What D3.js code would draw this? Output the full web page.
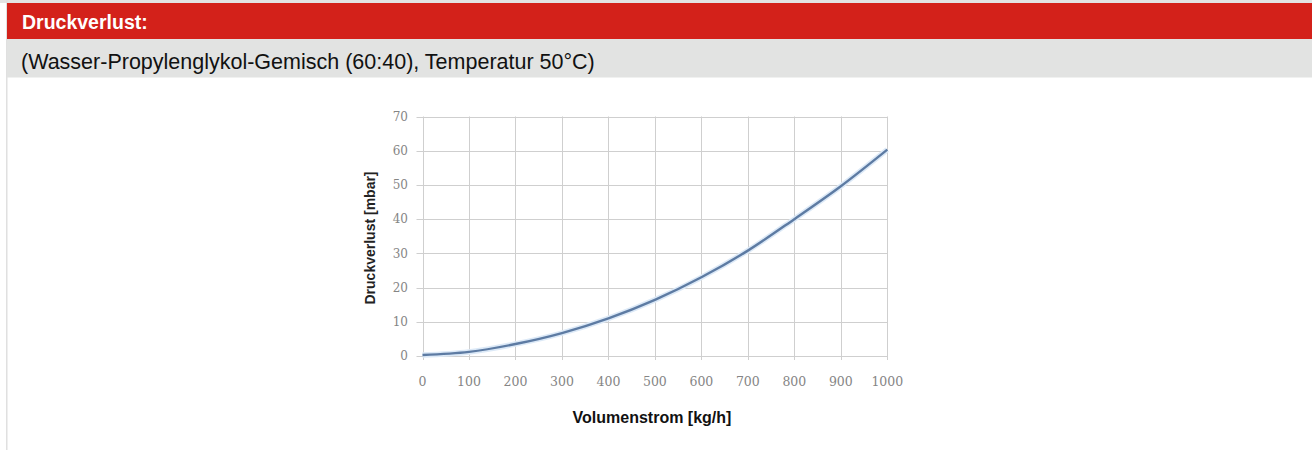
<!DOCTYPE html>
<html>
<head>
<meta charset="utf-8">
<script src="https://cdn.jsdelivr.net/npm/d3@7"></script>
<style>
  body { margin: 0; background: #fff; }
  svg { display: block; }
</style>
</head>
<body>
<script>
// Druckverlust chart
var flow = [0, 100, 200, 300, 400, 500, 600, 700, 800, 900, 1000];      // kg/h
var loss = [0.3, 1.2, 3.5, 6.7, 11.0, 16.4, 23.0, 30.8, 40.0, 49.6, 60.3]; // mbar
var xTicks = [0, 100, 200, 300, 400, 500, 600, 700, 800, 900, 1000];
var yTicks = [0, 10, 20, 30, 40, 50, 60, 70];

var headerTitle = "Druckverlust:";
var subTitle = "(Wasser-Propylenglykol-Gemisch (60:40), Temperatur 50°C)";
var xTitle = "Volumenstrom [kg/h]";
var yTitle = "Druckverlust [mbar]";

var W = 1312, H = 450;

var svg = d3.select("body").append("svg")
    .attr("width", W)
    .attr("height", H);

// frame + header bands
svg.append("rect").attr("x", 0).attr("y", 0).attr("width", W).attr("height", 3).attr("fill", "#e3e3e3");
svg.append("rect").attr("x", 6).attr("y", 0).attr("width", 1.5).attr("height", H).attr("fill", "#e0e0e0");
svg.append("rect").attr("x", 7).attr("y", 3).attr("width", W - 7).attr("height", 36).attr("fill", "#d3211a");
svg.append("rect").attr("x", 7).attr("y", 39).attr("width", W - 7).attr("height", 38.5).attr("fill", "#e2e3e2");

svg.append("text")
    .attr("x", 22).attr("y", 29)
    .style("font-family", "Arial, 'Liberation Sans', sans-serif")
    .style("font-size", "19.5px")
    .style("font-weight", "bold")
    .style("fill", "#fff")
    .text(headerTitle);

svg.append("text")
    .attr("x", 21).attr("y", 69)
    .style("font-family", "Arial, 'Liberation Sans', sans-serif")
    .style("font-size", "21.5px")
    .style("fill", "#111")
    .text(subTitle);

// plot area
var x = d3.scaleLinear().domain([0, 1000]).range([422.5, 887.3]);
var y = d3.scaleLinear().domain([0, 70]).range([356, 116.5]);

var g = svg.append("g");

g.selectAll(".hgrid")
    .data(yTicks)
  .enter().append("line")
    .attr("x1", x(0) - 6).attr("x2", x(1000))
    .attr("y1", function(d) { return Math.round(y(d)) + 0.5; })
    .attr("y2", function(d) { return Math.round(y(d)) + 0.5; })
    .attr("stroke", "#cfcfcf")
    .attr("stroke-width", 1);

g.selectAll(".vgrid")
    .data(xTicks)
  .enter().append("line")
    .attr("y1", y(70)).attr("y2", y(0) + 4)
    .attr("x1", function(d) { return Math.round(x(d)) + 0.5; })
    .attr("x2", function(d) { return Math.round(x(d)) + 0.5; })
    .attr("stroke", "#cfcfcf")
    .attr("stroke-width", 1);

g.selectAll(".ylab")
    .data(yTicks)
  .enter().append("text")
    .attr("x", x(0) - 14.5)
    .attr("y", function(d) { return y(d); })
    .attr("dy", "0.35em")
    .attr("text-anchor", "end")
    .style("font-family", "'DejaVu Serif', serif")
    .style("font-size", "12px")
    .style("fill", "#858585")
    .text(function(d) { return d; });

g.selectAll(".xlab")
    .data(xTicks)
  .enter().append("text")
    .attr("x", function(d) { return x(d); })
    .attr("y", 382)
    .attr("dy", "0.35em")
    .attr("text-anchor", "middle")
    .style("font-family", "'DejaVu Serif', serif")
    .style("font-size", "12.5px")
    .style("fill", "#858585")
    .text(function(d) { return d; });

var line = d3.line()
    .x(function(d, i) { return x(flow[i]); })
    .y(function(d) { return y(d); })
    .curve(d3.curveMonotoneX);

g.append("path")
    .datum(loss)
    .attr("d", line)
    .attr("fill", "none")
    .attr("stroke", "#dce9f7")
    .attr("stroke-width", 5.5);

g.append("path")
    .datum(loss)
    .attr("d", line)
    .attr("fill", "none")
    .attr("stroke", "#5d7ba3")
    .attr("stroke-width", 2.4);

svg.append("text")
    .attr("x", 652).attr("y", 422.5)
    .attr("text-anchor", "middle")
    .style("font-family", "Arial, 'Liberation Sans', sans-serif")
    .style("font-size", "16px")
    .style("font-weight", "bold")
    .style("fill", "#111")
    .text(xTitle);

svg.append("text")
    .attr("transform", "translate(375,238) rotate(-90)")
    .attr("text-anchor", "middle")
    .style("font-family", "Arial, 'Liberation Sans', sans-serif")
    .style("font-size", "14px")
    .style("font-weight", "bold")
    .style("fill", "#222")
    .text(yTitle);
</script>
</body>
</html>
